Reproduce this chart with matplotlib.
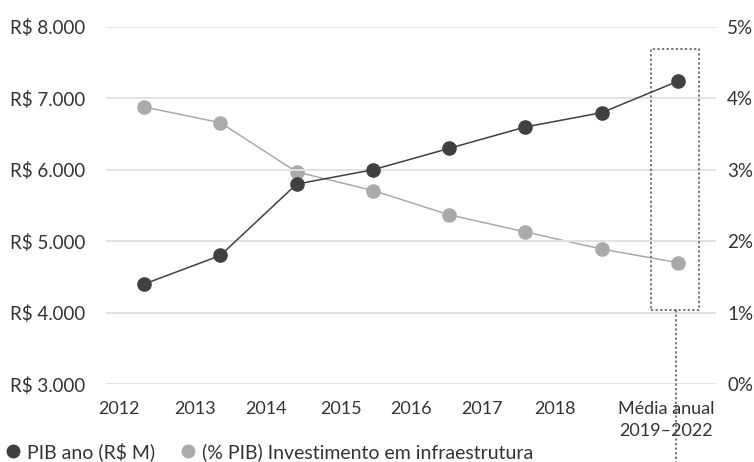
import matplotlib
matplotlib.use('Agg')
import matplotlib.pyplot as plt
from matplotlib.lines import Line2D
from matplotlib.patches import Rectangle

plt.rcParams['font.family'] = ['Lato', 'DejaVu Sans']

# Series data
categories = ['2012', '2013', '2014', '2015', '2016', '2017', '2018', 'Média anual\n2019–2022']
pib = [4400, 4800, 5800, 6000, 6300, 6600, 6800, 7240]
invest_pct = [3.88, 3.66, 2.97, 2.71, 2.37, 2.13, 1.89, 1.70]
left_ticks = [3000, 4000, 5000, 6000, 7000, 8000]
left_labels = ['R$ 3.000', 'R$ 4.000', 'R$ 5.000', 'R$ 6.000', 'R$ 7.000', 'R$ 8.000']
right_ticks = [0, 1, 2, 3, 4, 5]
right_labels = ['0%', '1%', '2%', '3%', '4%', '5%']

dark = '#404040'
light = '#aaaaaa'
text_col = '#333333'

fig = plt.figure(figsize=(7.54, 4.62), dpi=100)
ax = fig.add_axes([106 / 754, 1 - 384 / 462, 610 / 754, 357 / 462])
ax2 = ax.twinx()

x = list(range(len(categories)))

ax2.plot(x, invest_pct, color=light, lw=1.1, marker='o', ms=9.5, zorder=3)
ax.plot(x, pib, color=dark, lw=1.1, marker='o', ms=9.5, zorder=4)
ax.set_zorder(ax2.get_zorder() + 1)
ax.patch.set_visible(False)

ax.set_xlim(-0.5, 7.5)
ax.set_ylim(3000, 8000)
ax2.set_ylim(0, 5)

for v in left_ticks:
    ax.axhline(v, color='#e2e2e2', lw=1.4, zorder=0)

ax.set_yticks(left_ticks)
ax.set_yticklabels(left_labels, fontsize=13.5, color=text_col)
ax2.set_yticks(right_ticks)
ax2.set_yticklabels(right_labels, fontsize=13.5, color=text_col)

# category labels sit slightly left of their points
tick_pos = [-0.33, 0.67, 1.60, 2.58, 3.50, 4.43, 5.39, 6.85]
ax.set_xticks(tick_pos)
ax.set_xticklabels(categories, linespacing=1.45, fontsize=13, color=text_col)

for a in (ax, ax2):
    for s in a.spines.values():
        s.set_visible(False)
    a.tick_params(length=0)
for lbl in ax.get_yticklabels():
    lbl.set_horizontalalignment('left')
ax.tick_params(axis='y', pad=69)
ax2.tick_params(axis='y', pad=8)
ax.tick_params(axis='x', pad=12)

# dotted box around the period average, with a leader line below
ax.add_patch(Rectangle((6.65, 4030), 0.63, 3665, fill=False, ls=(0, (1.5, 1.5)),
                       lw=1.1, edgecolor='#555555', zorder=2))
ax.plot([6.97, 6.97], [4030, 1870], ls=(0, (1.5, 1.5)), lw=1.1, color='#555555',
        clip_on=False, zorder=2)

handles = [
    Line2D([], [], ls='none', marker='o', ms=9, color=dark),
    Line2D([], [], ls='none', marker='o', ms=9, color=light),
]
fig.legend(handles, ['PIB ano (R$ M)', '(% PIB) Investimento em infraestrutura'],
           loc='lower left', bbox_to_anchor=(-0.016, -0.036), ncol=2, frameon=False,
           fontsize=14, handlelength=0.8, handletextpad=0.3, columnspacing=1.3,
           labelcolor=text_col)

plt.savefig('out.png', dpi=100)
